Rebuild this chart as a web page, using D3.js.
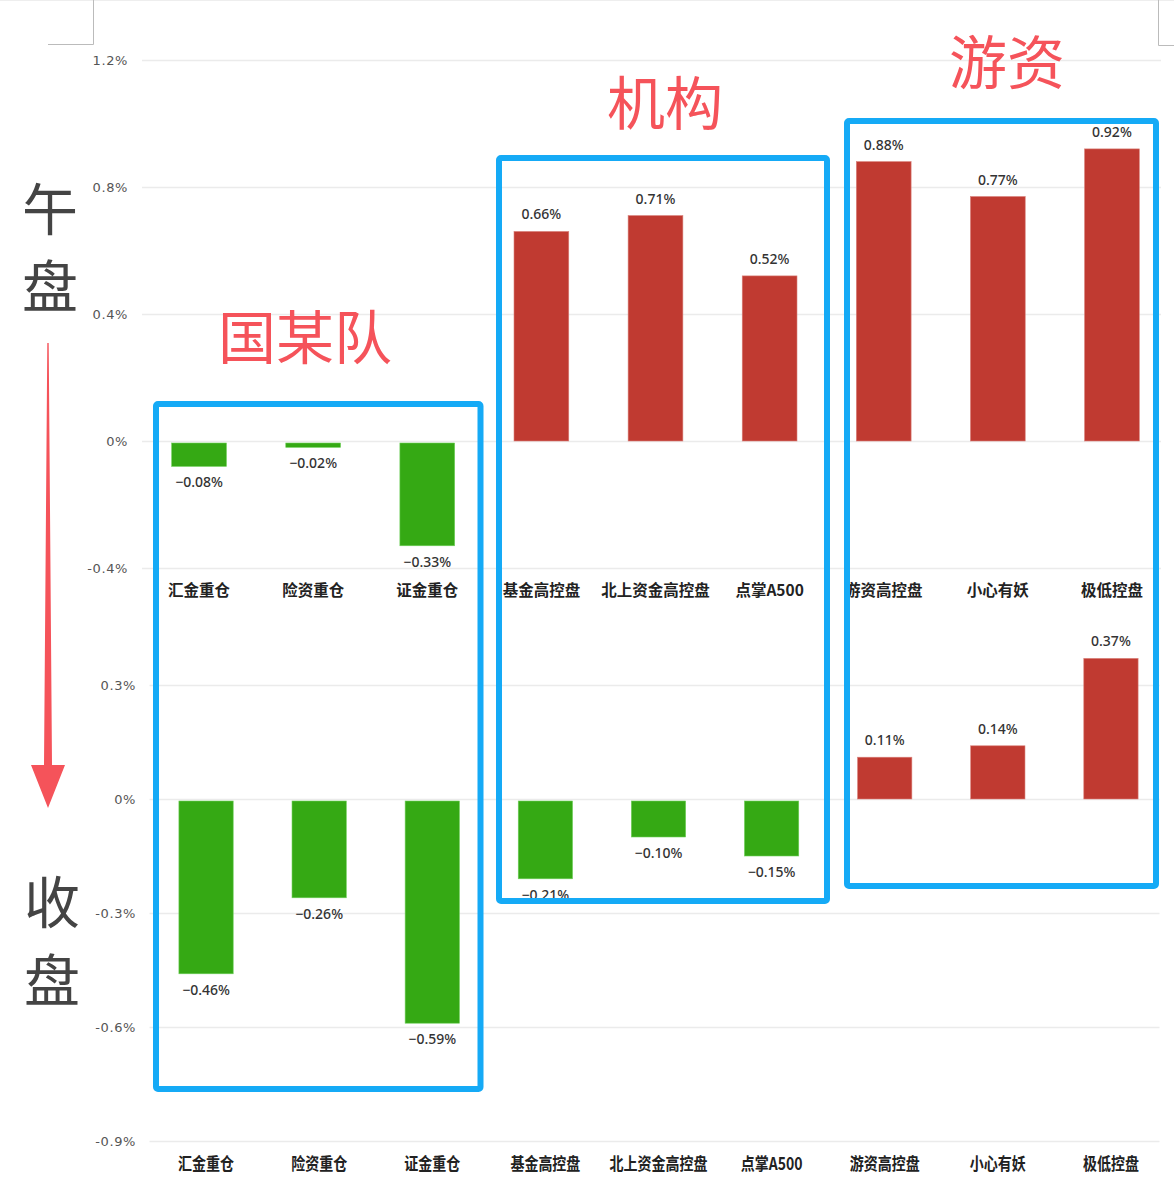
<!DOCTYPE html>
<html><head><meta charset="utf-8">
<script src="https://cdn.jsdelivr.net/npm/d3@7/dist/d3.min.js"></script>
<style>body{margin:0;background:#fff}svg{display:block}</style>
</head><body><svg id="c" width="1174" height="1197"></svg>
<script>
const categories = ["汇金重仓","险资重仓","证金重仓","基金高控盘","北上资金高控盘","点掌A500","游资高控盘","小心有妖","极低控盘"];
const noonValues = [-0.08,-0.02,-0.33,0.66,0.71,0.52,0.88,0.77,0.92];
const closeValues = [-0.46,-0.26,-0.59,-0.21,-0.10,-0.15,0.11,0.14,0.37];
const noonTicks = [-0.4,0,0.4,0.8,1.2];
const closeTicks = [-0.9,-0.6,-0.3,0,0.3];
const groupNames = ["国某队","机构","游资"];
const sideLabels = ["午盘","收盘"];

const svg = d3.select("#c");
const RED = "#c03a31", GREEN = "#35a914", BLUE = "#15aaf6", ANN = "#f5535a";
const fmtTick = v => (v===0?"0":(v<0?"-":"") + d3.format(".1f")(Math.abs(v))) + "%";
const fmtVal = v => (v<0?"−":"") + d3.format(".2f")(Math.abs(v)) + "%";

// corner marks
svg.append("line").attr("x1",0).attr("x2",1174).attr("y1",0.5).attr("y2",0.5).attr("stroke","#eee");
svg.append("path").attr("d","M48,44.5H93.5V0").attr("fill","none").attr("stroke","#bbb");
svg.append("path").attr("d","M1158.5,0V45.5H1174").attr("fill","none").attr("stroke","#bbb");

function panel(values, ticks, xr, yDomain, yr, tickX, labelY, squeeze, catSize){
  const x = d3.scaleBand().domain(categories).range(xr).paddingInner(0.52).paddingOuter(0.26);
  const y = d3.scaleLinear().domain(yDomain).range(yr);
  const g = svg.append("g");
  const ax = d3.axisLeft(y).tickValues(ticks).tickSize(-(xr[1]-xr[0]-8)).tickFormat(fmtTick);
  const axg = g.append("g").attr("transform",`translate(${xr[0]},0)`).call(ax);
  axg.select(".domain").remove();
  axg.selectAll(".tick line").attr("stroke","#ebebeb").attr("stroke-width",1.5);
  axg.selectAll(".tick text").attr("x",tickX - xr[0]).attr("fill","#555")
     .style("font","13px 'DejaVu Sans'").style("letter-spacing","0.6px");
  g.selectAll("rect.bar").data(values).join("rect").attr("class","bar")
    .attr("x",(d,i)=>x(categories[i])).attr("width",x.bandwidth())
    .attr("y",d=>d>=0?y(d):y(0)+2).attr("height",d=>Math.abs(y(d)-y(0))-(d>=0?0:2))
    .attr("fill",d=>d>=0?RED:GREEN).attr("stroke",d=>d>=0?"#d9807a":"#6fcf5a").attr("stroke-width",0.6);
  g.selectAll("text.val").data(values).join("text").attr("class","val")
    .attr("x",(d,i)=>x(categories[i])+x.bandwidth()/2)
    .attr("y",d=>d>=0?y(d)-12:y(d)+21)
    .attr("text-anchor","middle").attr("fill","#333")
    .style("font","500 14px 'Noto Sans', 'DejaVu Sans'").text(fmtVal);
  g.selectAll("text.cat").data(categories).join("text").attr("class","cat")
    .attr("transform",d=>`translate(${x(d)+x.bandwidth()/2},${labelY}) scale(${squeeze},1)`)
    .attr("text-anchor","middle").attr("dominant-baseline","central").attr("fill","#222")
    .style("font",`bold ${catSize}px 'Noto Sans CJK SC'`).text(d=>d);
}
panel(noonValues, noonTicks, [142,1169], [-0.4,1.2], [568,60], 128, 589, 1, 15.5);
panel(closeValues, closeTicks, [149.5,1167.5], [-0.9,0.3], [1141,685], 136, 1163, 0.8, 17.5);

// blue boxes
const boxes = [[156,404,480.5,1089],[499,158,827,901],[847,121,1156,886]];
svg.selectAll("rect.box").data(boxes).join("rect").attr("class","box")
  .attr("x",d=>d[0]).attr("y",d=>d[1]).attr("width",d=>d[2]-d[0]).attr("height",d=>d[3]-d[1])
  .attr("rx",2).attr("fill","none").attr("stroke",BLUE).attr("stroke-width",6);

// group annotations
const annPos = [[305,359],[665,125],[1007,84]];
svg.selectAll("text.ann").data(groupNames).join("text").attr("class","ann")
  .attr("x",(d,i)=>annPos[i][0]).attr("y",(d,i)=>annPos[i][1])
  .attr("text-anchor","middle").attr("fill",ANN)
  .style("font","400 58px 'Noto Sans CJK SC'").text(d=>d);

// side labels
const sidePos = [[50,205],[50,282],[52,898],[52,976]];
const sideChars = (sideLabels[0]+sideLabels[1]).split("");
svg.selectAll("text.side").data(sideChars).join("text").attr("class","side")
  .attr("x",(d,i)=>sidePos[i][0]).attr("y",(d,i)=>sidePos[i][1])
  .attr("text-anchor","middle").attr("dominant-baseline","central").attr("fill","#444")
  .style("font","400 56px 'Noto Sans CJK SC'").text(d=>d);

// arrow
svg.append("path").attr("d","M47.3,343 L48.7,343 L52,765 L65,765 L48,808 L31,765 L44,765 Z").attr("fill",ANN);
</script></body></html>
